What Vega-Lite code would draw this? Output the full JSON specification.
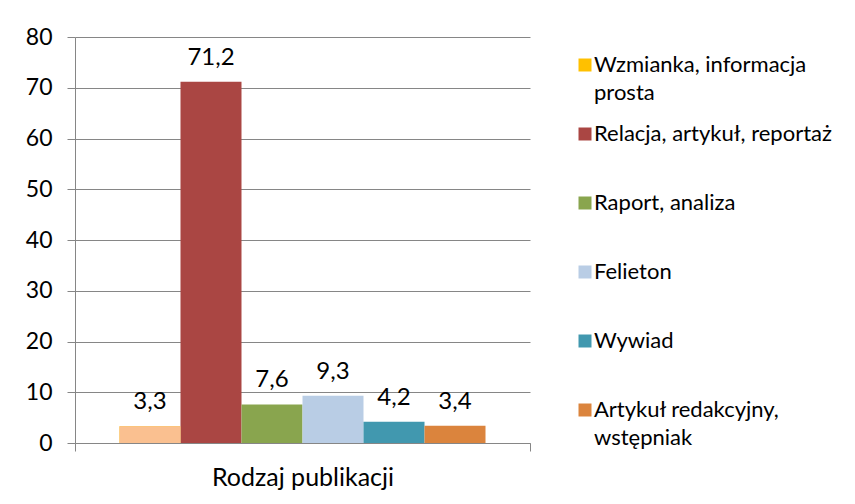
{
  "$schema": "https://vega.github.io/schema/vega-lite/v6.json",
  "width": 455,
  "height": 406,
  "autosize": {"type": "none"},
  "padding": {"left": 75, "top": 37, "right": 325, "bottom": 61},
  "background": "white",
  "config": {
    "view": {"stroke": null},
    "font": "Lato",
    "style": {"guide-label": {"lineHeight": 28}},
    "locale": {"number": {"decimal": ",", "thousands": " ", "grouping": [3], "currency": ["", " zł"]}}
  },
  "data": {
    "values": [
      {"kategoria": "Rodzaj publikacji", "typ": "Wzmianka, informacja prosta", "wartosc": 3.3},
      {"kategoria": "Rodzaj publikacji", "typ": "Relacja, artykuł, reportaż", "wartosc": 71.2},
      {"kategoria": "Rodzaj publikacji", "typ": "Raport, analiza", "wartosc": 7.6},
      {"kategoria": "Rodzaj publikacji", "typ": "Felieton", "wartosc": 9.3},
      {"kategoria": "Rodzaj publikacji", "typ": "Wywiad", "wartosc": 4.2},
      {"kategoria": "Rodzaj publikacji", "typ": "Artykuł redakcyjny, wstępniak", "wartosc": 3.4}
    ]
  },
  "encoding": {
    "x": {
      "field": "kategoria", "type": "nominal",
      "scale": {"paddingInner": 0, "paddingOuter": 0},
      "axis": {
        "title": null, "labelAngle": 0, "labelFontSize": 25, "labelColor": "#000000", "labelLimit": 400,
        "tickBand": "extent", "tickSize": 8, "tickColor": "#868686", "domainColor": "#868686",
        "labelPadding": 14
      }
    },
    "xOffset": {
      "field": "typ", "type": "nominal",
      "scale": {
        "domain": ["Wzmianka, informacja prosta", "Relacja, artykuł, reportaż", "Raport, analiza", "Felieton", "Wywiad", "Artykuł redakcyjny, wstępniak"],
        "paddingInner": 0, "paddingOuter": 0.7295
      }
    },
    "y": {
      "field": "wartosc", "type": "quantitative",
      "scale": {"domain": [0, 80], "nice": false},
      "axis": {
        "title": null, "values": [0, 10, 20, 30, 40, 50, 60, 70, 80],
        "grid": true, "gridColor": "#868686", "domainColor": "#868686", "tickColor": "#868686",
        "tickSize": 8, "labelFontSize": 23, "labelPadding": 15, "labelColor": "#000000"
      }
    }
  },
  "layer": [
    {
      "mark": {"type": "bar"},
      "encoding": {
        "color": {
          "field": "typ", "type": "nominal",
          "scale": {
            "domain": ["Wzmianka, informacja prosta", "Relacja, artykuł, reportaż", "Raport, analiza", "Felieton", "Wywiad", "Artykuł redakcyjny, wstępniak"],
            "range": ["#FFC000", "#AA4643", "#89A54E", "#B9CDE5", "#4198AF", "#DB843D"]
          },
          "legend": {
            "title": null, "orient": "none", "legendX": 499, "legendY": 17,
            "symbolType": "square", "symbolSize": 169, "symbolStrokeWidth": 0,
            "labelFontSize": 22, "labelColor": "#000000", "labelOffset": -2, "labelLimit": 400,
            "rowPadding": 19, "padding": 0,
            "labelExpr": "datum.label == 'Wzmianka, informacja prosta' ? ['Wzmianka, informacja', 'prosta'] : datum.label == 'Artykuł redakcyjny, wstępniak' ? ['Artykuł redakcyjny,', 'wstępniak'] : [datum.label, '']"
          }
        }
      }
    },
    {
      "transform": [{"filter": "datum.typ === 'Wzmianka, informacja prosta'"}],
      "mark": {"type": "bar", "color": "#FAC090"}
    },
    {
      "mark": {"type": "text", "baseline": "alphabetic", "dy": -17, "fontSize": 24, "color": "#000000"},
      "encoding": {"text": {"field": "wartosc", "type": "quantitative", "format": ".1f"}}
    }
  ]
}
